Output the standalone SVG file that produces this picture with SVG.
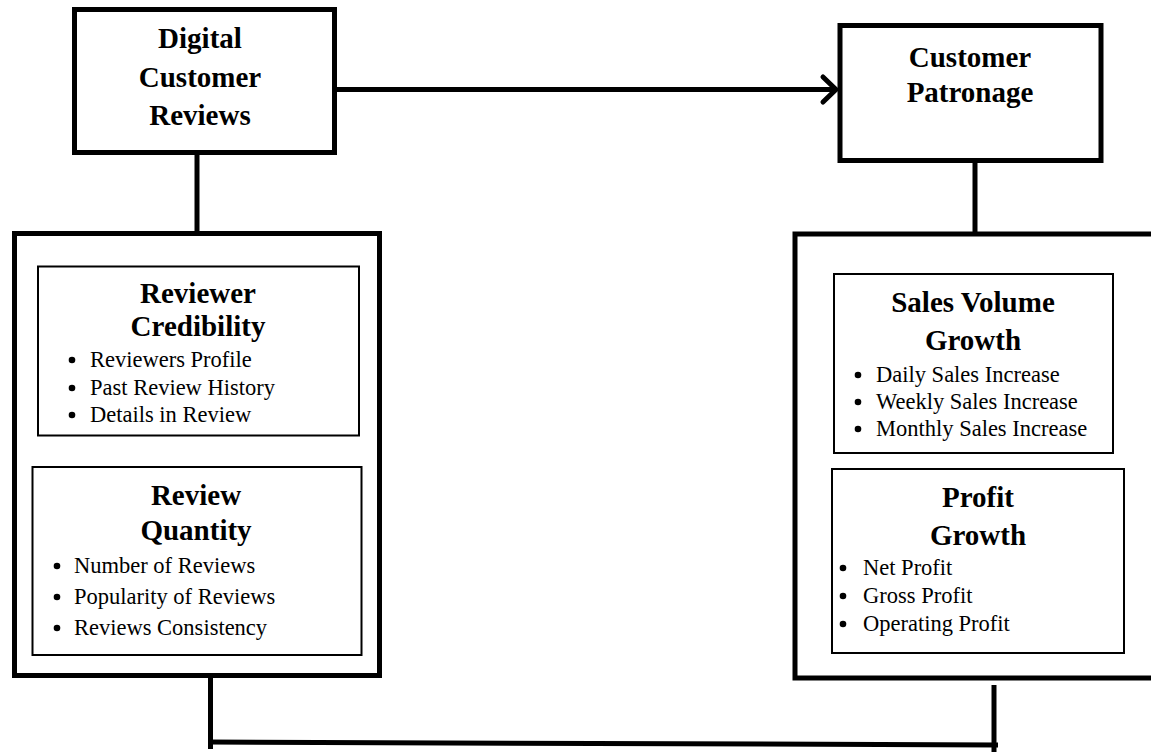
<svg xmlns="http://www.w3.org/2000/svg" width="1151" height="753" viewBox="0 0 1151 753">
<style>
.outer{fill:#fff;stroke:#000;stroke-width:5}
.inner{fill:#fff;stroke:#000;stroke-width:2}
.title{font-family:"Liberation Serif","Times New Roman",serif;font-weight:bold;font-size:29px;text-anchor:middle;fill:#000}
.item{font-family:"Liberation Serif","Times New Roman",serif;font-size:22.5px;fill:#000}
.dot{fill:#000}
.conn{fill:none;stroke:#000;stroke-width:5}
</style>
<rect width="1151" height="753" fill="#fff"/>
<g id="connectors">
<line class="conn" x1="197" y1="153" x2="197" y2="233"/>
<line class="conn" x1="975" y1="161" x2="975" y2="234"/>
<line class="conn" x1="335" y1="89.5" x2="836" y2="89.5"/>
<polyline class="conn" points="823,77 836,89.5 823,102" stroke-linecap="round" stroke-linejoin="round"/>
<line class="conn" x1="210.5" y1="676" x2="210.5" y2="749"/>
<line class="conn" x1="994" y1="685" x2="994" y2="752"/>
<line class="conn" x1="208" y1="742" x2="998" y2="745"/>
</g>
<g id="digital-customer-reviews">
<rect class="outer" x="74.5" y="9.5" width="260" height="143"/>
<text class="title" x="200" y="48">Digital</text>
<text class="title" x="200" y="87">Customer</text>
<text class="title" x="200" y="125">Reviews</text>
</g>
<g id="customer-patronage">
<rect class="outer" x="840" y="25.5" width="261" height="135"/>
<text class="title" x="970" y="67">Customer</text>
<text class="title" x="970" y="102">Patronage</text>
</g>
<g id="left-group">
<rect class="outer" x="14.5" y="233.5" width="365" height="442"/>
</g>
<g id="reviewer-credibility">
<rect class="inner" x="38" y="266.5" width="321" height="169"/>
<text class="title" x="198" y="303">Reviewer</text>
<text class="title" x="198" y="336">Credibility</text>
<circle class="dot" cx="72" cy="360" r="3.3"/>
<text class="item" x="90" y="367">Reviewers Profile</text>
<circle class="dot" cx="72" cy="388" r="3.3"/>
<text class="item" x="90" y="395">Past Review History</text>
<circle class="dot" cx="72" cy="415" r="3.3"/>
<text class="item" x="90" y="422">Details in Review</text>
</g>
<g id="review-quantity">
<rect class="inner" x="32.5" y="467" width="329" height="188"/>
<text class="title" x="196" y="505">Review</text>
<text class="title" x="196" y="540">Quantity</text>
<circle class="dot" cx="57" cy="566" r="3.3"/>
<text class="item" x="74" y="573">Number of Reviews</text>
<circle class="dot" cx="57" cy="597" r="3.3"/>
<text class="item" x="74" y="604">Popularity of Reviews</text>
<circle class="dot" cx="57" cy="628" r="3.3"/>
<text class="item" x="74" y="635">Reviews Consistency</text>
</g>
<g id="right-group">
<rect class="outer" x="795" y="234" width="400" height="444"/>
</g>
<g id="sales-volume-growth">
<rect class="inner" x="834" y="274" width="279" height="179"/>
<text class="title" x="973" y="312">Sales Volume</text>
<text class="title" x="973" y="350">Growth</text>
<circle class="dot" cx="858" cy="375" r="3.3"/>
<text class="item" x="876" y="382">Daily Sales Increase</text>
<circle class="dot" cx="858" cy="402" r="3.3"/>
<text class="item" x="876" y="409">Weekly Sales Increase</text>
<circle class="dot" cx="858" cy="429" r="3.3"/>
<text class="item" x="876" y="436">Monthly Sales Increase</text>
</g>
<g id="profit-growth">
<rect class="inner" x="832" y="469" width="292" height="184"/>
<text class="title" x="978" y="507">Profit</text>
<text class="title" x="978" y="545">Growth</text>
<circle class="dot" cx="843" cy="568" r="3.3"/>
<text class="item" x="863" y="575">Net Profit</text>
<circle class="dot" cx="843" cy="596" r="3.3"/>
<text class="item" x="863" y="603">Gross Profit</text>
<circle class="dot" cx="843" cy="624" r="3.3"/>
<text class="item" x="863" y="631">Operating Profit</text>
</g>
</svg>
